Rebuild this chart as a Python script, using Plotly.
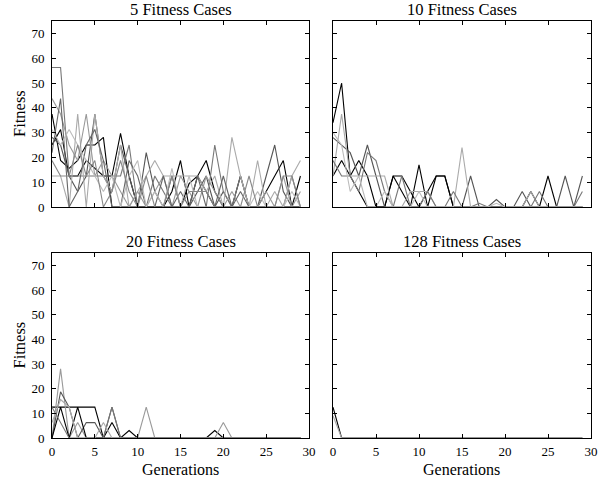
import plotly.graph_objects as go

generations = list(range(30))

def pad(v):
    return v + [0] * (30 - len(v))

# ---- 5 Fitness Cases ----
p1_run1 = [37.5,18.75,15.6,18.75,25,25,28.1,0,0,0,0,0,0,0,6.25,18.75,0,12.5,6.25,0,0,0,12.5,0,0,0,0,0,0,0]
p1_run2 = [25,31.25,12.5,12.5,18.75,15.6,12.5,12.5,29.7,12.5,0,0,0,0,0,0,9.4,12.5,18.75,6.25,0,0,0,0,0,6.25,12.5,18.75,0,12.5]
p1_run3 = [28.1,25,12.5,6.25,12.5,37.5,12.5,6.25,25,12.5,0,21.9,6.25,0,12.5,0,0,6.25,12.5,0,6.25,0,0,0,0,12.5,25,6.25,0,0]
p1_run4 = [56.25,56.25,12.5,12.5,12.5,12.5,12.5,12.5,12.5,25,0,0,12.5,6.25,0,0,0,0,0,25,6.25,0,12.5,0,0,0,0,0,12.5,0]
p1_run5 = [12.5,12.5,0,37.5,0,37.5,12.5,6.25,25,0,6.25,12.5,18.75,12.5,12.5,12.5,12.5,12.5,6.25,12.5,0,28.1,12.5,0,18.75,0,6.25,0,12.5,18.75]
p1_run6 = [43.75,37.5,25,18.75,37.5,12.5,18.75,12.5,6.25,0,6.25,0,6.25,12.5,0,12.5,6.25,0,12.5,6.25,0,6.25,0,0,0,6.25,0,12.5,0,6.25]
p1_run7 = [21.9,43.75,0,6.25,25,31.25,18.75,0,0,18.75,12.5,0,0,12.5,0,6.25,0,12.5,0,0,12.5,0,6.25,0,0,0,0,0,0,0]
p1_run8 = [31.25,25,31.25,25,18.75,12.5,6.25,12.5,0,12.5,18.75,0,6.25,0,15.6,0,12.5,0,0,0,0,0,0,0,6.25,0,0,0,6.25,0]
p1_run9 = [18.75,12.5,12.5,25,12.5,18.75,0,6.25,18.75,6.25,0,12.5,0,0,12.5,0,6.25,6.25,6.25,0,0,0,0,12.5,0,0,0,12.5,12.5,0]

# ---- 10 Fitness Cases ----
p2_run1 = [34,50,12.5,18.75,12.5,0,0,12.5,12.5,6.25,0,6.25,12.5,12.5,0,0,0,0,0,0,0,0,0,0,0,0,0,0,0,0]
p2_run2 = [12.5,18.75,12.5,6.25,0,0,0,12.5,6.25,0,17,0,12.5,12.5,0,0,0,0,0,0,0,0,0,6.25,0,12.5,0,0,0,0]
p2_run3 = [28,25,21.9,12.5,25,12.5,0,0,0,0,0,0,0,0,0,0,12.5,0,0,3,0,0,6.25,0,0,0,0,12.5,0,12.5]
p2_run4 = [12.5,37.5,12.5,12.5,12.5,12.5,12.5,0,0,6.25,6.25,6.25,0,0,0,24,0,0,0,0,0,0,0,6.25,0,0,0,0,0,0]
p2_run5 = [18.75,12.5,12.5,6.25,21.9,18.75,6.25,0,12.5,0,0,6.25,0,0,6.25,0,0,1.5,0,0,0,0,0,0,6.25,0,0,0,0,6.25]
p2_run6 = [30,25,6.25,12.5,0,0,6.25,0,0,0,6.25,0,0,0,0,0,0,0,0,1.5,0,0,0,0,0,0,0,0,0,0]

# ---- 20 Fitness Cases ----
p3_run1 = pad([12.5,12.5,12.5,12.5,12.5,12.5,0,0,0,3,0,0,0,0,0,0,0,0,0,3,0])
p3_run2 = pad([0,28,0,6.25,0,0,0,0,0,0,0,12.5,0,0,0,0,0,0,0,0,6.25,0])
p3_run3 = pad([0,18.75,12.5,0,6.25,6.25,0,12.5,0])
p3_run4 = pad([0,12.5,0,12.5,0,0,0,6.25,0])
p3_run5 = pad([12.5,6.25,0,0,0,0,0,12.5,0])
p3_run6 = pad([6.25,15.6,12.5,0,0,0,6.25,0])

# ---- 128 Fitness Cases ----
p4_run1 = pad([12.5,0])
p4_run2 = pad([9,0])

x_ticks = [0, 5, 10, 15, 20, 25, 30]
y_ticks = [0, 10, 20, 30, 40, 50, 60, 70]
titles = ["5 Fitness Cases", "10 Fitness Cases", "20 Fitness Cases", "128 Fitness Cases"]
panels = [
    [p1_run1, p1_run2, p1_run3, p1_run4, p1_run5, p1_run6, p1_run7, p1_run8, p1_run9],
    [p2_run1, p2_run2, p2_run3, p2_run4, p2_run5, p2_run6],
    [p3_run1, p3_run2, p3_run3, p3_run4, p3_run5, p3_run6],
    [p4_run1, p4_run2],
]
palettes = [
    ["#000000", "#000000", "#555555", "#777777", "#aaaaaa", "#999999", "#666666", "#bbbbbb", "#888888"],
    ["#000000", "#000000", "#555555", "#aaaaaa", "#777777", "#bbbbbb"],
    ["#000000", "#999999", "#555555", "#000000", "#777777", "#aaaaaa"],
    ["#000000", "#aaaaaa"],
]

W, H = 608, 478
boxes = [(52, 309, 21, 207), (333, 591, 21, 207), (52, 309, 253, 438), (333, 591, 253, 438)]
FONT = "Liberation Serif"

def px(x):
    return x / W

def py(y):
    return 1 - y / H

fig = go.Figure()
for i, (series, cols) in enumerate(zip(panels, palettes)):
    ax = "" if i == 0 else str(i + 1)
    for s, c in zip(series, cols):
        fig.add_trace(go.Scatter(x=generations, y=s, mode="lines",
                                 line=dict(color=c, width=1.1),
                                 xaxis="x" + ax, yaxis="y" + ax, showlegend=False))
    x0, x1, y0, y1 = boxes[i]
    common = dict(showline=True, linecolor="black", linewidth=1, mirror="allticks",
                  ticks="inside", ticklen=4, tickcolor="black", showgrid=False,
                  zeroline=False, automargin=False,
                  tickfont=dict(family=FONT, size=13, color="black"))
    fig.layout["xaxis" + ax] = dict(domain=[px(x0), px(x1)], range=[0, 30], tickvals=x_ticks,
                                    showticklabels=(i >= 2), anchor="y" + ax,
                                    ticklabelstandoff=1, **common)
    fig.layout["yaxis" + ax] = dict(domain=[py(y1), py(y0)], range=[0, 75], tickvals=y_ticks,
                                    showticklabels=(i % 2 == 0), anchor="x" + ax,
                                    ticklabelstandoff=4, **common)
    fig.add_annotation(text=titles[i], x=px((x0 + x1) / 2), y=py(y0), xref="paper", yref="paper",
                       xanchor="center", yanchor="bottom", yshift=0, showarrow=False,
                       font=dict(family=FONT, size=16.5, color="black"))
    if i % 2 == 0:
        fig.add_annotation(text="Fitness", x=px(19), y=py((y0 + y1) / 2), xref="paper", yref="paper",
                           textangle=-90, showarrow=False, xanchor="center", yanchor="middle",
                           font=dict(family=FONT, size=16.5, color="black"))
    if i >= 2:
        fig.add_annotation(text="Generations", x=px((x0 + x1) / 2), y=py(469), xref="paper", yref="paper",
                           showarrow=False, xanchor="center", yanchor="middle",
                           font=dict(family=FONT, size=16, color="black"))

fig.update_layout(template="none", width=W, height=H, margin=dict(l=0, r=0, t=0, b=0),
                  paper_bgcolor="white", plot_bgcolor="white",
                  font=dict(family=FONT, color="black"))
fig.write_html("out.html", config={"displayModeBar": False},
               post_script="document.body.style.margin='0';")
